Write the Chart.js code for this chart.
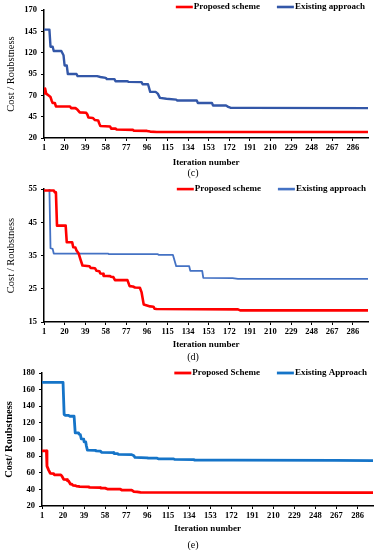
<!DOCTYPE html>
<html lang="en">
  <head>
    <meta charset="UTF-8" />
    <title>Cost / Roubstness vs iteration</title>
    <script src="https://cdn.jsdelivr.net/npm/chart.js"></script>
    <style>
      body {
        margin: 0;
        background: #fff;
        font-family: "Liberation Serif", serif;
      }
      .wrap {
        position: relative;
        width: 382px;
        height: 550px;
      }
      canvas {
        position: absolute;
        left: 0;
      }
      .caption {
        position: absolute;
        width: 382px;
        left: 2px;
        text-align: center;
        font-size: 10px;
        color: #000;
      }
    </style>
  </head>
  <body>
    <div class="wrap">
      <canvas id="chartC" width="382" height="168" style="top: 0px"></canvas>
      <div class="caption" style="top: 167px">(c)</div>
      <canvas id="chartD" width="382" height="170" style="top: 180px"></canvas>
      <div class="caption" style="top: 351px">(d)</div>
      <canvas id="chartE" width="382" height="174" style="top: 360px"></canvas>
      <div class="caption" style="top: 539px">(e)</div>
    </div>

    <script>
      // shared x tick labels (iteration number)
      const iterTicks = [1, 20, 39, 58, 77, 96, 115, 134, 153, 172, 191, 210, 229, 248, 267, 286];

      // (c) proposed scheme
      const propCx = [1, 2, 3, 5, 7, 8, 9, 11, 12, 25, 26, 30, 32, 34, 40, 41, 42, 46, 48, 51, 52, 53, 62, 63, 67, 68, 83, 84, 96, 99, 105, 300];
      const propCy = [71, 78, 72, 70, 68, 64, 61, 61, 57, 57, 55, 55, 53, 50, 49.5, 47.5, 44, 43.5, 41, 40.5, 37, 34, 33.5, 31, 31, 30, 29.5, 28.5, 28.3, 27.5, 27, 27];
      // (c) existing approach
      const existCx = [1, 6, 7, 9, 10, 17, 19, 20, 22, 23, 31, 32, 50, 53, 58, 59, 66, 67, 78, 79, 91, 92, 97, 99, 104, 106, 108, 114, 123, 124, 142, 143, 156, 157, 169, 171, 173, 191, 300];
      const existCy = [147, 147, 127, 127, 122, 122, 117, 105, 105, 95, 95, 92.5, 92.5, 91.5, 90.5, 89, 89, 86.5, 86.5, 85.8, 85.5, 83, 83, 74, 74, 72, 67, 66, 65, 64, 64, 61, 61, 58, 58, 56.5, 55.5, 55.3, 55];

      // (d) proposed scheme
      const propDx = [1, 10, 11, 12, 13, 21, 22, 27, 28, 30, 31, 33, 34.5, 36.5, 43, 44, 48, 49.5, 52, 53, 55.5, 56, 62, 63, 65, 66.5, 78, 80, 83, 85, 89.5, 91, 93, 96, 99, 102, 103, 105, 180, 182, 300];
      const propDy = [54.6, 54.6, 54, 54, 44, 44, 39, 39, 37.5, 37.4, 36.5, 35.6, 34, 32, 31.8, 31.3, 31.2, 30.4, 30.3, 29.6, 29.5, 28.9, 28.8, 28.6, 28.5, 27.6, 27.6, 25.8, 25.7, 25.4, 25.3, 24, 20.3, 20, 19.7, 19.6, 19, 18.9, 18.8, 18.5, 18.5];
      // (d) existing approach
      const existDx = [6, 7, 9, 10, 60, 61, 106, 107, 120, 123, 135, 136, 147, 148, 175, 180, 300];
      const existDy = [55, 37.2, 37, 35.6, 35.6, 35.4, 35.4, 35.2, 35.2, 31.8, 31.8, 30.4, 30.4, 28.3, 28.2, 28, 28];

      // (e) proposed scheme
      const propEx = [1, 5, 5.5, 7, 8.5, 11.5, 12, 18, 19, 20.6, 23.6, 24, 25, 26.6, 28, 29, 31, 32, 34, 35, 43, 44, 53.7, 54, 58, 60, 71.8, 73, 82, 84, 87, 90, 300];
      const propEy = [86.4, 86.4, 68, 63.2, 59.2, 59, 57.6, 57.5, 56, 52, 51.8, 50.4, 50.2, 46.4, 46.2, 44.8, 44.6, 44, 43.6, 43.2, 43, 42.4, 42.2, 41.6, 41.5, 40.4, 40.2, 39.2, 39, 37.2, 37, 36.4, 36.2];
      // (e) existing approach
      const existEx = [1, 20, 21, 22, 25, 26, 30, 31, 34, 34.5, 35.6, 36.5, 38.7, 39, 40.5, 41, 42, 49, 49.5, 53.7, 55, 65.8, 66, 69.4, 70, 82, 84, 85, 96, 97, 105, 106, 120, 121, 138, 139, 174, 265, 300];
      const existEy = [168.8, 168.8, 130, 129.2, 129, 128, 128, 108, 108, 106.4, 106, 100.8, 100.5, 97.2, 97, 93, 87.2, 87, 86.4, 86, 84.4, 84.2, 83.2, 83, 82, 81.8, 80.4, 78.4, 78, 77.6, 77.5, 76.8, 76.6, 76, 75.8, 75.2, 75.1, 75, 74.5];

      const serif = "'Liberation Serif', 'Times New Roman', serif";

      const toPoints = (xs, ys) => xs.map((x, i) => ({ x: x, y: ys[i] }));

      // legend drawn as short lines at the top right, over the plot area
      const lineLegend = {
        id: "lineLegend",
        afterDraw(chart, args, opts) {
          const { ctx, chartArea } = chart;
          ctx.save();
          ctx.font = "bold 9px " + serif;
          ctx.textBaseline = "middle";
          let x = chartArea.right + opts.dx;
          const y = chartArea.top + opts.dy;
          chart.data.datasets
            .slice()
            .reverse()
            .forEach((ds) => {
              const w = ctx.measureText(ds.label).width;
              x -= w;
              ctx.fillStyle = "#000";
              ctx.textAlign = "left";
              ctx.fillText(ds.label, x, y);
              x -= 1;
              ctx.strokeStyle = ds.borderColor;
              ctx.lineWidth = opts.lineWidth;
              ctx.beginPath();
              ctx.moveTo(x - 17, y);
              ctx.lineTo(x, y);
              ctx.stroke();
              x -= 17 + 17;
            });
          ctx.restore();
        },
      };

      function makeChart(id, o) {
        new Chart(document.getElementById(id), {
          type: "line",
          data: {
            datasets: [
              {
                label: o.labels[0],
                data: toPoints(o.redX, o.redY),
                borderColor: "#ff0000",
                borderWidth: o.redWidth,
                borderJoinStyle: "round",
                pointRadius: 0,
                tension: 0,
              },
              {
                label: o.labels[1],
                data: toPoints(o.blueX, o.blueY),
                borderColor: o.blue,
                borderWidth: o.blueWidth,
                borderJoinStyle: "round",
                pointRadius: 0,
                tension: 0,
              },
            ],
          },
          options: {
            responsive: false,
            animation: false,
            layout: { padding: { top: o.padTop, right: o.padRight, left: 0, bottom: 0 } },
            plugins: {
              legend: { display: false },
              tooltip: { enabled: false },
              lineLegend: { dx: o.legDx, dy: o.legDy, lineWidth: o.redWidth },
            },
            scales: {
              x: {
                type: "linear",
                min: 1,
                max: 300,
                afterBuildTicks: (scale) => {
                  scale.ticks = iterTicks.map((v) => ({ value: v }));
                },
                afterFit: (scale) => {
                  scale.height = o.xHeight;
                },
                border: { display: true, color: "#000", width: 1.5 },
                grid: { drawOnChartArea: false, drawTicks: true, tickLength: 3, color: "#000" },
                ticks: {
                  color: "#000",
                  font: { family: serif, size: 8.5, weight: "bold" },
                  padding: 2,
                  maxRotation: 0,
                  autoSkip: false,
                  callback: (v) => v,
                },
                title: {
                  display: true,
                  text: "Iteration number",
                  color: "#000",
                  font: { family: serif, size: 9, weight: "bold" },
                  padding: 0,
                },
              },
              y: {
                min: o.yMin,
                max: o.yMax,
                afterFit: (scale) => {
                  scale.width = o.yWidth;
                },
                border: { display: true, color: "#000", width: 1.5 },
                grid: { drawOnChartArea: false, drawTicks: true, tickLength: 3, color: "#000" },
                ticks: {
                  stepSize: o.yStep,
                  color: "#000",
                  font: { family: serif, size: 8.5, weight: "bold" },
                  padding: 4,
                },
                title: {
                  display: true,
                  text: o.yTitle,
                  color: "#000",
                  font: { family: serif, size: 10.5, weight: o.yTitleWeight },
                  padding: { top: o.yTitlePad, bottom: 0 },
                },
              },
            },
          },
          plugins: [lineLegend],
        });
      }

      makeChart("chartC", {
        labels: ["Proposed scheme", "Existing approach"],
        redX: propCx, redY: propCy, blueX: existCx, blueY: existCy,
        blue: "#3357a8", redWidth: 2.6, blueWidth: 2.4,
        padTop: 10, padRight: 14, xHeight: 30, yWidth: 44,
        yMin: 20, yMax: 170, yStep: 25,
        yTitle: "Cost / Roubstness", yTitleWeight: "normal", yTitlePad: 5,
        legDx: -3, legDy: -3,
      });

      makeChart("chartD", {
        labels: ["Proposed scheme", "Existing approach"],
        redX: propDx, redY: propDy, blueX: existDx, blueY: existDy,
        blue: "#4472c4", redWidth: 2.6, blueWidth: 1.8,
        padTop: 9, padRight: 14, xHeight: 28, yWidth: 44,
        yMin: 15, yMax: 55, yStep: 10,
        yTitle: "Cost / Roubstness", yTitleWeight: "normal", yTitlePad: 5,
        legDx: -2, legDy: 0,
      });

      makeChart("chartE", {
        labels: ["Proposed Scheme", "Existing Approach"],
        redX: propEx, redY: propEy, blueX: existEx, blueY: existEy,
        blue: "#1574c8", redWidth: 2.8, blueWidth: 2.8,
        padTop: 13, padRight: 9, xHeight: 28, yWidth: 42,
        yMin: 20, yMax: 180, yStep: 20,
        yTitle: "Cost/ Roubstness", yTitleWeight: "bold", yTitlePad: 3,
        legDx: -6, legDy: 0,
      });
    </script>
  </body>
</html>
